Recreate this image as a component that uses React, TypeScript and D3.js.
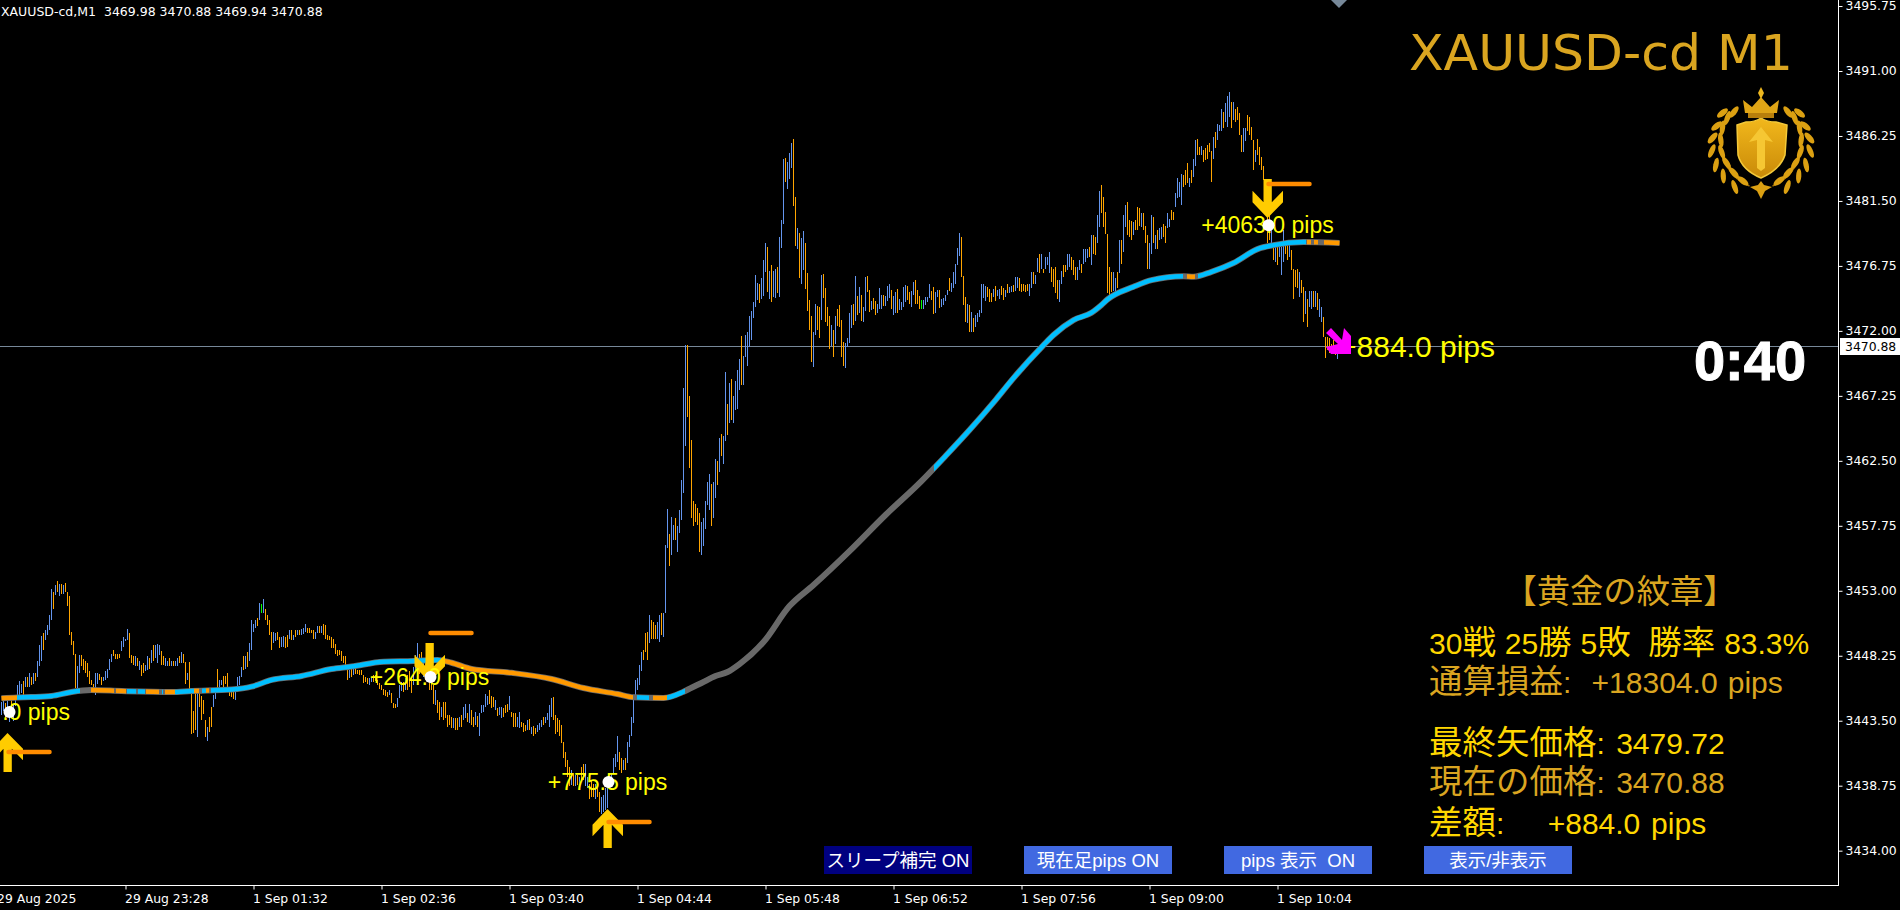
import React, { useEffect, useRef } from 'react';
import * as d3 from 'd3';

type Bar = [number, number, number]; // high, low, 1 up / 0 down / 2 doji

// M1 bars, two pixels per bar
const barsAug29: Bar[] = [
  [3444.9,3443.9,1],[3445.2,3444.2,1],[3444.8,3443.6,0],[3445,3444,1],[3444.6,3443.4,1],[3445.1,3444,0],[3444.7,3443.5,1],[3445.4,3444.6,1],
  [3446.1,3445.3,1],[3446.4,3445.3,1],[3446.2,3445.5,1],[3446.4,3445.3,0],[3446.7,3446,1],[3446.7,3446,0],[3447,3446,1],[3446.7,3446.1,0],[3447,3446.2,1],[3447,3446.4,0],
  [3447.9,3446.7,1],[3449,3447.5,1],[3449.7,3447.9,1],[3449.9,3448.7,0],[3450.1,3449.4,1],[3450.5,3449.8,1],[3451.2,3450.1,1],[3453.1,3450.9,1],[3452.9,3451.7,0],[3453.4,3452.7,1],
  [3453.7,3452.9,0],[3453.5,3452.6,1],[3453.5,3452.8,0],[3453.4,3452.8,1],[3453.6,3452.9,0],[3452.9,3451.9,0],[3452.6,3449.8,0],[3450,3449,0],[3449.3,3448.3,0],[3448.4,3445.9,0],
  [3447.5,3445.7,1],[3448.3,3447,1],[3448.3,3447.5,0],[3448,3447.2,0],[3447.9,3447,0],[3447.7,3446.7,0],[3447.1,3446.2,0],[3446.5,3446.1,0],[3446.2,3445.7,0],[3447,3445.4,1],
  [3447,3446.2,1],[3446.9,3446.5,0],[3446.7,3446.1,0],[3446.7,3446.4,1],[3447.1,3446.5,1],[3447.3,3446.6,1],[3448,3447.2,1],[3448.4,3447.8,1],[3448.7,3448.2,0],[3448.4,3448,0],
  [3448.4,3448,0],[3448.4,3448.1,0],[3449.3,3448.6,1],[3449.6,3448.9,1],[3449.45,3449.3,1],[3450.2,3449.4,1],[3449.9,3448.1,0],[3448.3,3447.7,0],[3448.2,3447.6,0],[3448.2,3447.5,1],
  [3448.1,3447.5,0],[3447.9,3447.2,1],[3447.6,3446.8,0],[3447.7,3447,0],[3447.6,3447.1,1],[3448.2,3447.2,1],[3448.1,3447.3,0],[3448.7,3447.7,1],[3449,3447.9,0],[3449,3448.1,1],
  [3449.1,3447.7,1],[3449,3448.3,1],[3448.6,3447.6,0],[3448.2,3447.6,0],[3448.1,3447.5,1],[3447.9,3447.5,1],[3448.1,3447.5,0],[3447.9,3447.5,1],[3447.9,3447.5,0],[3447.9,3447.5,1],
];

const barsSep01Open: Bar[] = [
  [3448.1,3447.5,1],[3448.2,3447.7,0],[3448.5,3447.7,1],[3448.4,3447.7,0],[3447.8,3446.2,0],[3447,3446.5,1],[3447.8,3445.6,0],[3445.7,3442.5,0],[3444.2,3442.6,0],[3445.5,3442.8,0],
  [3445.9,3442.3,1],[3445.7,3444.5,0],[3445.3,3443.55,0],[3445,3444,0],[3443.55,3442.3,0],[3443.05,3442,1],[3443.8,3442.7,0],[3444.5,3443.05,0],[3445.4,3444.5,1],[3445.75,3445.1,1],
  [3447.3,3445.5,0],[3446.5,3445.75,1],[3446.5,3446.1,1],[3446.8,3446,0],[3446.8,3446.2,0],[3447,3446,0],[3445.6,3445.3,0],[3445.6,3445.2,0],[3445.6,3445.1,0],[3445.6,3445,1],
  [3446.7,3445.75,1],[3446.8,3446.1,1],[3447.45,3446.7,1],[3448.2,3447.2,0],[3448.2,3447.3,1],[3448.5,3447.45,0],[3449.2,3447.9,1],[3450.9,3448.7,1],[3450.6,3450,1],[3450.9,3450.3,1],
  [3451,3450.4,0],[3452.1,3450.9,1],[3452,3451.35,2],[3452.4,3451.35,1],[3451.7,3450.9,0],[3451.2,3450.5,0],[3450.9,3449.8,0],[3450,3448.7,0],[3450,3449.2,1],[3449.9,3449.3,1],
  [3450,3449.4,0],[3449.65,3448.8,0],[3449.65,3448.9,1],[3449.7,3448.9,1],[3449.65,3448.8,0],[3449.8,3448.9,0],[3450.1,3449.5,1],[3450.1,3449.4,0],[3449.8,3449.4,1],[3450.1,3449.65,0],
  [3450.1,3449.8,1],[3450.1,3449.8,0],[3450.2,3449.8,1],[3450.25,3449.85,1],[3450.6,3450,1],[3450.3,3449.9,0],[3450.25,3449.9,0],[3450.1,3449.9,0],[3450.1,3449.5,0],[3450,3449.5,1],
  [3450.4,3449.9,1],[3450.4,3449.9,0],[3450.4,3449.9,1],[3450.55,3449.8,0],[3450.5,3449.5,0],[3449.8,3449.4,0],[3449.7,3449.4,0],[3449.65,3448.8,0],[3449.45,3448.8,0],[3449.1,3448.4,0],
  [3448.7,3448.2,0],[3448.7,3448.3,0],[3448.6,3447.9,0],[3448.2,3447.7,0],[3448.2,3447.2,0],[3447.2,3446.5,0],[3447.2,3446.6,1],
];

const barsSep01Dip: Bar[] = [
  [3447.25,3446.7,0],[3447.3,3446.85,1],[3447.25,3446.9,0],[3447.2,3446.95,0],[3447.2,3446.85,0],[3447.2,3446.85,0],[3446.85,3446.25,0],[3446.7,3446.3,0],[3446.6,3446.2,0],[3446.6,3446.1,1],
  [3446.7,3446.35,1],[3446.85,3446.35,0],[3446.85,3446.4,0],[3446.5,3446.1,0],[3446.25,3445.85,0],[3446.1,3445.75,0],[3445.8,3445.4,0],[3445.75,3445.3,0],[3445.6,3445.2,0],[3445.75,3445.4,1],
  [3445.5,3444.8,0],[3444.8,3444.45,0],[3444.75,3444.45,0],[3445.15,3444.5,1],[3446.1,3445.15,1],[3446.35,3445.7,1],[3446.35,3445.6,0],[3446.6,3445.75,1],[3446.85,3445.75,0],[3447.1,3446,0],
  [3446.7,3445.5,0],[3447.45,3446.1,1],[3448.3,3447.2,1],[3449.2,3447.1,1],[3448.4,3446.95,0],[3448.55,3447.45,0],[3447.95,3446.7,1],[3447.7,3446.45,0],[3447.45,3446.45,1],[3446.95,3445.75,0],
  [3446.35,3445.75,0],[3446.1,3444.7,0],[3445.75,3444.65,1],[3445,3444.05,0],[3444.9,3443.55,0],[3444.5,3443.8,1],[3444.9,3443.55,0],[3444.9,3443.7,0],[3443.9,3443.05,0],[3443.9,3443.2,0],
  [3443.8,3442.95,0],[3443.7,3442.95,1],[3443.7,3442.85,0],[3443.7,3442.85,0],[3443.8,3443.05,1],[3443.9,3443.05,0],[3444.5,3443.55,1],[3444.75,3443.7,1],[3444.05,3443.4,0],[3444.75,3443.3,1],
  [3444.3,3443.2,0],[3443.8,3443.05,0],[3444.15,3443.2,1],[3443.85,3443.05,0],[3444.05,3442.4,1],[3444.65,3444.05,1],[3444.65,3444.15,1],[3445.45,3444.5,1],[3445.3,3444.65,1],[3445.75,3444.75,0],
  [3445.3,3444.4,0],[3445.2,3444.5,0],[3445.05,3444.3,1],[3444.4,3443.85,0],[3444.5,3443.9,1],[3444.5,3443.7,1],[3444.4,3443.8,0],[3444.65,3444.05,0],[3444.7,3444.15,0],[3445.3,3444.3,1],
  [3444.15,3443.8,0],[3444.05,3443.05,0],[3444.05,3443.05,0],[3443.8,3443.05,1],[3444.15,3443,1],[3443.4,3443.05,0],[3443.3,3442.7,0],[3443.2,3442.75,0],[3443.55,3442.8,1],[3443.6,3442.8,0],
  [3443.05,3442.55,1],[3443.1,3442.4,0],[3443,3442.55,0],[3443.2,3442.7,1],[3443.3,3442.85,1],[3443.55,3443.05,1],[3443.75,3443.2,0],[3443.8,3443.3,1],[3444.05,3443.55,1],[3444.65,3443.05,1],
  [3445.15,3443.8,1],[3445.2,3443.55,0],[3443.9,3442.55,0],[3443.7,3442.7,0],[3443.55,3442.35,0],[3443.2,3441.85,0],[3441.95,3440.75,0],[3441.25,3440.15,0],[3440.6,3439.4,0],[3440.15,3438.7,0],
  [3439.9,3438.8,1],[3439.65,3438.7,0],[3439.5,3438.7,1],[3439.5,3438.8,0],[3439.4,3438.8,1],[3440.15,3439.15,0],[3440.3,3439.15,0],[3440.3,3438.7,1],[3439.4,3438.55,1],[3438.9,3437.8,0],
  [3439.15,3437.95,0],[3438.9,3437.95,0],[3438.9,3437.8,1],[3438.9,3437.95,0],[3438.3,3436.85,0],[3437.95,3436.7,1],[3438.05,3436.85,1],[3438.55,3436.95,1],[3439.15,3437.1,1],[3439.3,3438.9,1],
  [3439.65,3438.9,1],[3440.75,3439.65,1],[3441.1,3440.15,1],[3442.4,3440.5,1],[3441.25,3439.9,0],[3440.75,3439.65,0],[3440.6,3439.9,1],[3440.75,3439.9,0],[3441.95,3440.4,1],[3442.45,3441.6,1],
  [3443.8,3442.35,1],[3445,3443.3,1],[3446.45,3445,1],[3446.6,3445.75,1],[3447.55,3446.1,1],[3448.55,3447.1,1],[3448.65,3447.95,0],[3449.9,3448.55,0],[3450,3447.95,0],[3451.2,3449.15,1],
  [3450.85,3449.5,0],[3450.75,3449.5,0],[3450.5,3449.5,0],[3450.75,3449.5,1],[3451.2,3449.25,1],[3451.35,3449.75,0],[3451.35,3449.6,1],
];

const barsSep01Rally: Bar[] = [
  [3456.35,3451.35,1],[3458.97,3456.1,1],[3457.15,3454.8,0],[3458.4,3455.6,1],[3457.8,3456.7,1],[3458.35,3456.7,0],[3457.75,3455.85,1],[3458.9,3457.25,1],[3461.1,3458.15,1],[3467.8,3460.15,1],
  [3470.95,3463.6,1],[3470.95,3465.7,0],[3467.25,3461.95,0],[3464,3458.35,0],[3459.6,3457.75,0],[3459.35,3458.05,0],[3459.05,3457.8,0],[3458.7,3455.8,0],[3458.05,3455.6,1],[3458.3,3456.25,1],
  [3459.55,3457.5,1],[3460.95,3459.25,1],[3461.55,3458.9,1],[3460.8,3457.7,0],[3460.95,3458.3,1],[3462.6,3459.8,1],[3462.5,3460.7,0],[3464.15,3461.65,1],[3464.45,3462.85,0],[3464.3,3462.25,1],
  [3469,3463.95,1],[3466.65,3464.4,0],[3468.2,3465.25,1],[3468.5,3465.5,0],[3467.25,3465.25,1],[3468.35,3466.2,1],[3469.15,3466.3,1],[3469.95,3467.65,1],[3471.6,3468.05,0],
];

const barsSep01Peak: Bar[] = [
  [3470.2,3468.05,1],[3471.7,3470.1,1],[3471.9,3469.4,1],[3473.1,3470.85,1],[3473.45,3471.3,1],[3474.1,3472.95,1],[3476.05,3473.75,1],[3475.5,3474.25,1],[3475.4,3474.05,0],[3475.85,3474.3,1],
  [3477.15,3474.55,1],[3478.4,3476.3,1],[3478.1,3474.85,0],[3476.35,3474.3,1],[3476.8,3474.1,0],[3476.35,3474.45,1],[3476.5,3474.4,1],[3476.65,3474.75,0],[3478.85,3474.45,1],[3480.1,3478.05,1],
  [3484.55,3479.8,1],[3484.65,3482.9,0],[3484.35,3482.35,1],[3485,3483.1,1],[3485.7,3483.9,1],[3486,3481.1,0],[3481.8,3478.2,0],[3479.5,3478,1],[3479.15,3475.9,0],[3478.8,3475.4,1],
  [3479.3,3476.45,1],[3478.4,3475.05,0],[3476.2,3473.45,0],[3474.25,3472.05,0],[3473.1,3469.7,0],[3471.9,3469.35,1],[3474,3471.7,1],[3473.8,3472.1,0],[3473.75,3471.45,0],[3476.05,3472.8,1],
  [3476.15,3474.4,0],[3475.1,3472.65,0],[3473.75,3472.35,0],[3473.1,3470.65,0],[3472.45,3470.9,1],[3472.05,3470.1,0],[3473.1,3471.05,1],[3473.6,3472.35,0],[3473.9,3472.25,0],[3472.8,3470.1,0],
  [3471.2,3469.45,0],[3471.1,3469.3,1],[3471.45,3470.85,1],[3473.3,3471.1,1],[3473.9,3472.2,1],[3474,3472.45,0],[3476,3472.7,1],[3474.55,3473.15,0],[3475.2,3473.3,1],[3474.6,3472.7,0],
  [3473.75,3472.65,1],[3475.95,3473.45,1],[3476,3474.85,0],[3475,3473.35,0],[3474.2,3473.5,1],[3474.4,3473.6,0],[3474.2,3473.15,0],[3473.95,3473.3,1],[3475.1,3473.6,1],[3474.6,3473.6,1],
  [3474.6,3473.8,0],[3474.55,3473.8,1],[3475.25,3474.2,1],[3475.4,3474.4,1],[3475,3473.6,0],[3474.55,3473.15,1],[3474.85,3473.3,1],[3475.05,3473.3,0],[3474.35,3473.5,1],[3474.1,3473.5,1],
  [3475.2,3473.75,1],[3475.35,3474.1,1],[3475.25,3474.25,0],[3474.85,3473.95,0],[3474.9,3473.75,1],[3475.55,3474.6,1],[3475.7,3474,0],[3475,3474,0],[3474.55,3473.6,0],[3474.25,3473.6,2],
  [3474.25,3473.6,1],[3474.45,3473.9,1],[3474.45,3474.1,1],[3475.4,3474.4,1],[3474.9,3474.25,0],[3475.2,3473.2,0],[3474.85,3473.3,1],[3475,3474.45,1],[3475,3473.65,0],[3474.35,3473.75,1],
  [3474.4,3473.9,1],[3474.6,3474.15,1],[3475,3474.6,1],[3475.85,3474.9,0],[3475.5,3474.85,1],[3476.3,3475.15,1],[3476.9,3475.4,1],[3478.05,3476.8,1],[3479.15,3477.45,1],[3478.85,3475.95,0],
  [3476,3473.9,0],[3474.45,3472.65,0],[3474,3472.55,1],[3473.9,3471.95,0],[3473.35,3471.95,1],[3472.95,3471.95,0],[3473.15,3472.25,1],[3473.3,3472.65,1],[3473.5,3473,1],[3475.4,3473.3,1],
  [3475.4,3474.4,1],[3475.25,3474.2,1],[3475.2,3474.45,0],[3475.05,3474.1,0],[3474.75,3474.1,0],[3475.05,3474.45,1],[3475.25,3474.2,0],[3475,3474.55,1],[3475.05,3474.35,1],
];

const barsSep01Close: Bar[] = [
  [3475.25,3474.6,0],[3475.15,3474.25,0],[3475,3474.45,1],[3475.4,3474.75,0],[3475.2,3474.8,1],[3475.25,3474.85,1],[3475.35,3474.85,0],[3475.95,3474.95,1],[3475.95,3475.1,1],[3475.85,3474.95,0],
  [3475.45,3474.85,0],[3475.45,3474.9,0],[3475.35,3474.85,0],[3475.4,3474.9,0],[3475.4,3474.55,1],[3476.3,3475.1,1],[3476.3,3475.45,0],[3476.05,3475.45,1],[3477.3,3476.3,1],[3477.65,3476.2,0],
  [3477.6,3476.55,1],[3476.55,3476.2,0],[3477.4,3476.55,1],[3477.4,3476.8,1],[3477.8,3476.2,1],[3476.7,3475.6,0],[3476.55,3475.2,0],[3476.7,3474.75,0],[3475.75,3474.35,0],[3475.7,3474.1,1],
  [3476.4,3475.45,1],[3476.8,3475.95,0],[3476.8,3476.3,0],[3477.65,3476.45,1],[3477.65,3476.7,1],[3477.4,3476.45,0],[3477.15,3476.05,0],[3476.7,3475.75,0],[3476.7,3475.75,1],[3477.2,3476.45,1],
  [3476.9,3476.2,0],[3478,3476.9,1],[3478,3477.05,1],[3478,3477.3,1],[3478.15,3477.4,0],[3479,3476.8,1],[3479,3477.65,0],[3478.9,3477.55,0],[3480.45,3478.4,1],[3482.2,3479.6,1],
  [3482.7,3480.6,0],[3481.8,3479.6,0],[3480.7,3479.1,0],[3479.1,3474.75,0],[3476.7,3474.5,0],[3476.3,3474.85,0],[3476.3,3474.95,1],[3475.85,3474.85,1],[3476.3,3475.1,0],[3478.65,3476.2,1],
  [3478.65,3476.9,0],[3480.45,3477.8,1],[3481.2,3479.6,1],[3481.45,3479,0],[3480.1,3478.9,0],[3480.05,3478.65,0],[3479.95,3479,1],[3480.1,3479.35,0],[3481.05,3479.35,0],[3480.95,3479.7,0],
  [3480.6,3479.6,1],[3480.6,3479.35,0],[3479.7,3478.4,0],[3479,3476.55,0],[3478.4,3476.55,1],[3480.5,3477.65,1],[3480.35,3478.4,0],[3479,3478,1],[3479.35,3478,0],[3479.5,3478.65,1],
  [3479.6,3478.75,1],[3479.85,3478.9,0],[3479.7,3478.4,0],[3480.6,3479.5,1],[3480.2,3479.6,1],[3480.85,3480.1,0],[3480.7,3480.1,0],[3482.05,3481.05,1],[3483.15,3481.7,1],[3482.9,3481.8,1],
  [3483.5,3481.2,1],[3483.4,3482.55,0],[3483.75,3482.65,0],[3484.3,3482.8,0],[3483.15,3482.55,1],[3483.75,3482.8,0],[3484.55,3483.25,1],[3485.95,3484.05,1],[3486,3484.85,0],[3485.45,3484.85,0],
  [3485.5,3484.85,1],[3485.2,3484.35,0],[3485.35,3484.5,0],[3485.6,3484.6,0],[3485.7,3485.1,0],[3485.15,3482.9,0],[3486.2,3484.6,1],[3486.55,3485.35,0],[3487.15,3485.95,1],[3487.05,3486.65,1],
  [3488.25,3486.65,1],[3488,3486.8,0],[3488.65,3487.3,1],[3489.2,3486.9,1],[3489.5,3487.65,1],[3488.75,3486.8,0],[3488.75,3487.4,1],[3488.25,3487.3,0],[3488.4,3487.45,0],[3487.9,3486.3,0],
  [3486.3,3485.1,0],[3486.8,3485.1,1],[3486.8,3485.85,1],[3487.8,3486.65,0],[3487.65,3486.3,0],[3486.9,3485.95,0],[3485.95,3483.75,0],[3485.2,3484.35,1],[3486.05,3484.85,0],[3485.45,3484.1,0],
  [3484.7,3483.75,0],[3484.05,3483,0],[3483,3482.4,0],[3482.3,3478.4,0],[3481.3,3478.65,0],[3479.5,3478.4,1],[3478.4,3477.15,0],[3478.4,3477.05,1],[3478.15,3476.8,0],[3478.4,3477.4,1],
  [3478.15,3476.05,1],[3479.35,3477.05,1],[3478.25,3477.65,0],[3478.4,3477.15,0],[3478.4,3477.4,1],[3477.9,3476.45,0],[3476.55,3474.35,0],[3476.45,3475.2,0],[3476.55,3475.1,0],[3476.3,3474.5,1],
  [3475.7,3474.75,0],[3475.2,3472.65,0],[3474.95,3473.25,1],[3474.35,3472.3,0],[3474.95,3473.75,1],[3474.95,3473.6,1],[3474.95,3473.75,0],[3474.9,3473.75,1],[3474.75,3473.5,0],[3474.3,3473.05,1],
  [3473.75,3472.65,1],[3473.05,3471.55,0],[3471.55,3470.05,0],[3471.55,3470.6,0],[3471.45,3470.4,0],[3471.05,3470.35,0],[3471.3,3470.3,0],[3470.95,3470.25,0],[3470.88,3469.94,1],
];

const maIndex = [0,8,15,25,35,45,60,85,95,115,125,135,150,165,175,191,206,218,225,235,255,275,291,308,316,331,341,345,350,357,363,369,381,394,406,424,442,460,472,484,497,506,521,526,536,545,550,553,566,575,591,596,605,616,628,636,651,669];
const maValue = [3445.14,3445.2,3445.23,3445.31,3445.6,3445.74,3445.67,3445.6,3445.67,3445.78,3445.99,3446.48,3446.77,3447.28,3447.46,3447.81,3447.86,3447.94,3447.74,3447.28,3447,3446.55,3445.89,3445.45,3445.21,3445.16,3445.62,3445.91,3446.26,3446.77,3447.06,3447.64,3449.25,3451.88,3453.42,3455.9,3458.54,3461.02,3462.85,3464.75,3466.94,3468.55,3470.96,3471.7,3472.79,3473.33,3473.9,3474.3,3475.22,3475.71,3476,3475.96,3476.32,3476.96,3477.98,3478.27,3478.49,3478.42];
// slope colour of the MA: each entry runs until the next start
const maColorStart = [0,8,39,45,56,57,62,63,67,68,72,72.5,79,80,81,82,87,96,96.5,99,100,102,102.5,104,105,220,316,318,324,326,333,342,466,591,593,597,598,652,652.5,655,656,658,661];
const maColorName = 'obgogogbgbgogbgobgogbgogbogbgobgbgogbgogogo';

const yTicks = d3.range(14).map(i => 3434 + i * 4.75);
const timeIndex = [-2,62,126,190,254,318,382,446,510,574,638];
const timeLabels = ['29 Aug 2025','29 Aug 23:28','1 Sep 01:32','1 Sep 02:36','1 Sep 03:40','1 Sep 04:44','1 Sep 05:48','1 Sep 06:52','1 Sep 07:56','1 Sep 09:00','1 Sep 10:04'];

const lastPrice = 3470.88;
const headerText = 'XAUUSD-cd,M1  3469.98 3470.88 3469.94 3470.88';

// signal arrows, entries and their pips
const tradeIndex = [3,214,303,633];
const tradeUp = [true,false,true,false];
const tradeTip = [3442.6,3446.33,3437.05,3480.25];
const tradeEntry = [3444.14,3446.69,3439.02,3479.72];
const tradeStop = [3441.21,3449.91,3436.1,3482.73];
const tradeLabels = ['.0 pips','+264.0 pips','+775.5 pips','+4063.0 pips'];

const panelLines = ['30戦 25勝 5敗  勝率 83.3%','通算損益:  +18304.0 pips','最終矢価格: 3479.72','現在の価格: 3470.88','差額:    +884.0 pips'];
const panelSpacing = [0.5, 1.8, 3, 3, 2.5];
const buttonLabels = ['スリープ補完 ON','現在足pips ON','pips 表示  ON','表示/非表示'];
const buttonColors = ['#000080','#4169E1','#4169E1','#4169E1'];

const GOLD = '#FFD700';
const GOLDENROD = '#DAA520';
const AXIS_FONT = '"DejaVu Sans", sans-serif';
const LABEL_FONT = '"Liberation Sans", "Noto Sans CJK JP", sans-serif';

export default function App() {
  const svgRef = useRef<SVGSVGElement>(null);

  useEffect(() => {
    if (!svgRef.current) return;
    document.body.style.margin = '0';
    document.body.style.background = '#000';

    const svg = d3.select(svgRef.current);
    svg.selectAll('*').remove();

    const bars = [...barsAug29, ...barsSep01Open, ...barsSep01Dip, ...barsSep01Rally, ...barsSep01Peak, ...barsSep01Close];
    const x = d3.scaleLinear().domain([0, 669]).range([1.5, 1339.5]);
    const y = d3.scaleLinear().domain([3434, 3491]).range([850.67, 71]);

    svg.append('rect').attr('width', 1900).attr('height', 910).attr('fill', '#000');

    // last price line sits behind the bars
    const lastY = Math.floor(y(lastPrice)) + 0.5;
    svg.append('line').attr('x1', 0).attr('x2', 1838).attr('y1', lastY).attr('y2', lastY)
      .attr('stroke', '#778899').attr('stroke-width', 1);

    const barColor = ['#FFA500', '#6495ED', '#00FF00'];
    svg.append('g').attr('shape-rendering', 'crispEdges')
      .selectAll('line').data(bars).enter().append('line')
      .attr('x1', (_, i) => x(i)).attr('x2', (_, i) => x(i))
      .attr('y1', d => Math.round(y(d[0]))).attr('y2', d => Math.round(y(d[1])))
      .attr('stroke', d => barColor[d[2]]);

    // moving average, gray outline with a hard-stop colour gradient on top
    const maData = maIndex.map((idx, i) => ({ idx, value: maValue[i] }));
    const maLine = d3.line<{ idx: number; value: number }>()
      .x(d => x(d.idx)).y(d => y(d.value)).curve(d3.curveMonotoneX);
    const colorOf: Record<string, string> = { o: '#FF9900', b: '#00BFFF', g: '#696969' };
    const grad = svg.append('defs').append('linearGradient').attr('id', 'ma-grad')
      .attr('gradientUnits', 'userSpaceOnUse')
      .attr('x1', x(0)).attr('x2', x(669)).attr('y1', 0).attr('y2', 0);
    maColorStart.forEach((start, i) => {
      const end = i + 1 < maColorStart.length ? maColorStart[i + 1] : 669;
      const color = colorOf[maColorName[i]];
      grad.append('stop').attr('offset', start / 669).attr('stop-color', color);
      grad.append('stop').attr('offset', end / 669).attr('stop-color', color);
    });
    svg.append('path').attr('d', maLine(maData)).attr('fill', 'none')
      .attr('stroke', '#696969').attr('stroke-width', 6);
    svg.append('path').attr('d', maLine(maData)).attr('fill', 'none')
      .attr('stroke', 'url(#ma-grad)').attr('stroke-width', 4.5);

    // signal arrows
    const arrowShape = 'M0,0 L15.5,15.7 L15.5,27.3 L4.3,15.7 L4.3,39 L-4,39 L-4,15.7 L-15,27.3 L-15,15.7 Z';
    tradeIndex.forEach((idx, i) => {
      const scaleY = tradeUp[i] ? 1 : -1;
      svg.append('path').attr('d', arrowShape)
        .attr('transform', `translate(${x(idx)},${y(tradeTip[i])}) scale(1,${scaleY})`)
        .attr('fill', '#FFCC00');
      svg.append('line')
        .attr('x1', x(idx) + 1).attr('x2', x(idx + 21))
        .attr('y1', y(tradeStop[i])).attr('y2', y(tradeStop[i]))
        .attr('stroke', '#FF8C00').attr('stroke-width', 4.5).attr('stroke-linecap', 'round');
    });
    tradeIndex.forEach((idx, i) => {
      const label = svg.append('text').attr('y', y(tradeEntry[i]) + 8)
        .attr('font-family', LABEL_FONT).attr('font-size', 23).attr('fill', '#FFFF00')
        .text(tradeLabels[i]);
      if (i === 0) label.attr('x', 70).attr('text-anchor', 'end');
      else label.attr('x', x(idx)).attr('text-anchor', 'middle');
    });
    tradeIndex.forEach((idx, i) => {
      svg.append('circle').attr('cx', x(idx) + (i === 0 ? 2 : 1)).attr('cy', y(tradeEntry[i]))
        .attr('r', 6).attr('fill', '#fff');
    });

    // running pips at the last bar
    svg.append('text').attr('x', 1495).attr('y', 357).attr('text-anchor', 'end')
      .attr('font-family', LABEL_FONT).attr('font-size', 30).attr('fill', '#FFFF00')
      .text('+884.0 pips');
    svg.append('path')
      .attr('d', 'M1326,333 L1331,328 L1342,340 L1344,328 L1351,336 L1351,354 L1331,354 L1326,347 L1338,344 Z')
      .attr('fill', '#FF00FF');
    svg.append('path').attr('d', 'M1331,0 L1347,0 L1339,8 Z').attr('fill', '#778899');

    // axes
    const yAxis = svg.append('g').attr('transform', 'translate(1838.5,0)')
      .call(d3.axisRight(y).tickValues(yTicks).tickSize(4).tickPadding(3).tickFormat(d3.format('.2f')));
    const xAxis = svg.append('g').attr('transform', 'translate(0,885.5)')
      .call(d3.axisBottom(x).tickValues(timeIndex).tickSize(4).tickPadding(4.7)
        .tickFormat((_, i) => timeLabels[i]));
    [yAxis, xAxis].forEach(g => {
      g.attr('font-family', AXIS_FONT).attr('font-size', 12.4);
      g.select('.domain').remove();
      g.selectAll('line').attr('stroke', '#fff');
      g.selectAll('text').attr('fill', '#fff');
    });
    xAxis.selectAll('text').attr('text-anchor', 'start').attr('x', -1);
    svg.append('line').attr('x1', 1838.5).attr('x2', 1838.5).attr('y1', 0).attr('y2', 886).attr('stroke', '#fff');
    svg.append('line').attr('x1', 0).attr('x2', 1839).attr('y1', 885.5).attr('y2', 885.5).attr('stroke', '#fff');

    svg.append('rect').attr('x', 1840).attr('y', lastY - 8.5).attr('width', 60).attr('height', 17).attr('fill', '#fff');
    svg.append('text').attr('x', 1845).attr('y', lastY + 4.5)
      .attr('font-family', AXIS_FONT).attr('font-size', 12.4).attr('fill', '#000')
      .text(d3.format('.2f')(lastPrice));

    svg.append('text').attr('x', 1).attr('y', 16).attr('fill', '#fff')
      .attr('font-family', AXIS_FONT).attr('font-size', 12.5).style('white-space', 'pre')
      .text(headerText);

    svg.append('text').attr('x', 1409).attr('y', 70).attr('fill', GOLDENROD)
      .attr('font-family', AXIS_FONT).attr('font-size', 50.5).text('XAUUSD-cd M1');
    svg.append('text').attr('x', 1750).attr('y', 380).attr('text-anchor', 'middle').attr('fill', '#fff')
      .attr('stroke', '#fff').attr('stroke-width', 1)
      .attr('font-family', LABEL_FONT).attr('font-weight', 700).attr('font-size', 56).text('0:40');

    // emblem
    const defs = svg.select('defs');
    const gold = defs.append('linearGradient').attr('id', 'gold').attr('x1', 0).attr('x2', 0).attr('y1', 0).attr('y2', 1);
    gold.append('stop').attr('offset', 0).attr('stop-color', '#F2B81C');
    gold.append('stop').attr('offset', 1).attr('stop-color', '#C98A08');
    const emblem = svg.append('g');
    [-1, 1].forEach(side => {
      const wing = emblem.append('g').attr('transform', `translate(1761,0) scale(${side * 0.82},1)`);
      wing.append('path').attr('d', 'M36,112 Q58,138 42,166 Q32,180 14,186').attr('fill', 'none')
        .attr('stroke', '#A87408').attr('stroke-width', 1.5);
      const leaves = [[33,112,-45],[41,118,-25],[47,113,-60],[47,128,-10],[54,126,-60],[49,140,10],[59,138,-50],[48,152,25],[60,151,-30],[42,163,40],[55,165,-15],[33,173,50],[46,176,5],[22,181,60],[32,187,25]];
      leaves.forEach(l => {
        wing.append('ellipse').attr('cx', l[0]).attr('cy', l[1]).attr('rx', 3.2).attr('ry', 7.5)
          .attr('transform', `rotate(${l[2]},${l[0]},${l[1]})`).attr('fill', '#DBA012');
      });
    });
    emblem.append('path').attr('d', 'M1737,125 L1746,122 Q1755,122 1761,118 Q1767,122 1776,122 L1787,125 L1785,155 Q1780,170 1761,178 Q1742,170 1738,155 Z')
      .attr('fill', 'url(#gold)').attr('stroke', '#F3C93A').attr('stroke-width', 1.5);
    emblem.append('path').attr('d', 'M1761,127 L1773,142 L1765,140 L1765,168 L1761,171 L1757,168 L1757,140 L1749,142 Z').attr('fill', '#F6C733');
    emblem.append('path').attr('d', 'M1745,113 L1743,100 L1752,107 L1761,97 L1770,107 L1779,100 L1777,113 Z').attr('fill', '#E0A516');
    emblem.append('path').attr('d', 'M1761,87 L1764,93 L1761,99 L1758,93 Z').attr('fill', '#EDB71F');
    emblem.append('rect').attr('x', 1748).attr('y', 113).attr('width', 26).attr('height', 5).attr('fill', '#B87F0C');
    emblem.append('path').attr('d', 'M1761,199 L1765,191 L1772,187 L1764,185 L1761,181 L1758,185 L1750,187 L1757,191 Z').attr('fill', '#DBA012');

    // stats panel
    svg.append('text').attr('x', 1620).attr('y', 603).attr('text-anchor', 'middle').attr('fill', GOLDENROD)
      .attr('font-family', LABEL_FONT).attr('font-size', 33.3).text('【黄金の紋章】');
    const panelY = [654, 693, 754, 793, 834];
    const panelColor = [GOLD, GOLDENROD, GOLD, GOLDENROD, GOLD];
    panelLines.forEach((line, i) => {
      const t = svg.append('text').attr('x', 1429).attr('y', panelY[i]).attr('fill', panelColor[i])
        .attr('font-family', LABEL_FONT).attr('word-spacing', panelSpacing[i]).style('white-space', 'pre');
      (line.match(/[\u3000-\u9fff]+|[^\u3000-\u9fff]+/g) || []).forEach(run => {
        const cjk = /[\u3000-\u9fff]/.test(run);
        t.append('tspan').attr('font-size', cjk ? 33.5 : 30).text(run);
      });
    });

    // buttons
    buttonLabels.forEach((label, i) => {
      const bx = 824 + i * 200;
      svg.append('rect').attr('x', bx).attr('y', 846).attr('width', 148).attr('height', 28).attr('fill', buttonColors[i]);
      svg.append('text').attr('x', bx + 74).attr('y', 867).attr('text-anchor', 'middle').attr('fill', '#fff')
        .attr('font-family', LABEL_FONT).attr('font-size', 18.5).style('white-space', 'pre')
        .text(label);
    });
  }, []);

  return <svg ref={svgRef} width={1900} height={910} style={{ position: 'absolute', left: 0, top: 0, display: 'block' }} />;
}
